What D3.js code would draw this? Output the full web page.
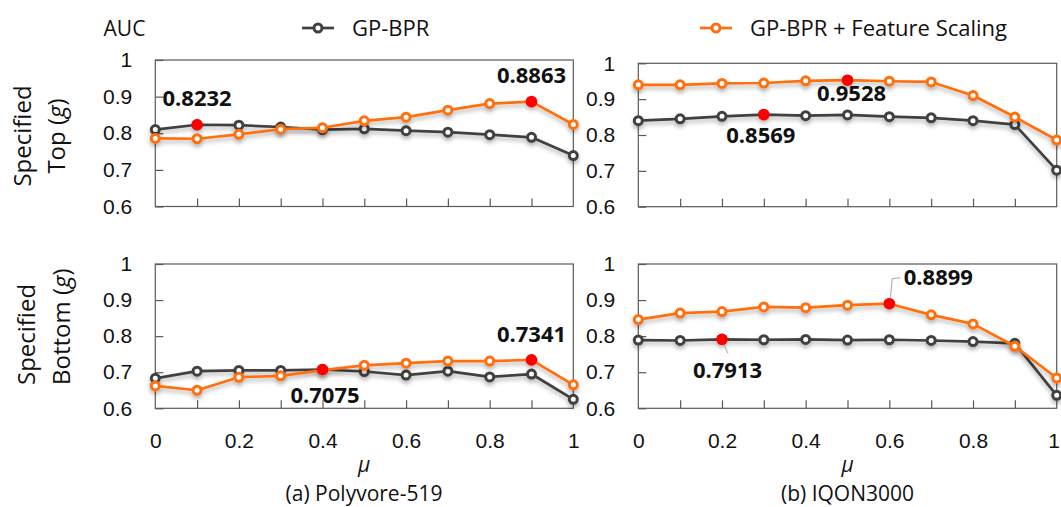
<!DOCTYPE html>
<html>
<head>
<meta charset="utf-8">
<script src="https://cdn.jsdelivr.net/npm/d3@7"></script>
<style>
  body { margin: 0; background: #fff; }
  svg { display: block; font-family: "Open Sans", sans-serif; }
</style>
</head>
<body>
<svg id="chart" width="1061" height="507"></svg>
<script>
// mu values along x
const mu = [0, 0.1, 0.2, 0.3, 0.4, 0.5, 0.6, 0.7, 0.8, 0.9, 1];
const xTickLabels = [0, 0.2, 0.4, 0.6, 0.8, 1];
const yTicks = [0.6, 0.7, 0.8, 0.9, 1];
const seriesNames = ["GP-BPR", "GP-BPR + Feature Scaling"];

// AUC, specified top, Polyvore-519
const polyTopBase = [0.810, 0.8232, 0.822, 0.817, 0.810, 0.812, 0.807, 0.803, 0.796, 0.789, 0.739];
const polyTopFs   = [0.786, 0.785, 0.797, 0.811, 0.815, 0.834, 0.844, 0.863, 0.881, 0.8863, 0.824];
// AUC, specified top, IQON3000
const iqonTopBase = [0.840, 0.845, 0.852, 0.8569, 0.854, 0.856, 0.851, 0.848, 0.840, 0.829, 0.702];
const iqonTopFs   = [0.940, 0.940, 0.944, 0.945, 0.951, 0.9528, 0.950, 0.948, 0.910, 0.850, 0.786];
// AUC, specified bottom, Polyvore-519
const polyBotBase = [0.683, 0.703, 0.705, 0.705, 0.7075, 0.702, 0.692, 0.703, 0.687, 0.695, 0.625];
const polyBotFs   = [0.662, 0.650, 0.686, 0.690, 0.706, 0.719, 0.725, 0.731, 0.731, 0.7341, 0.665];
// AUC, specified bottom, IQON3000
const iqonBotBase = [0.789, 0.788, 0.7913, 0.790, 0.791, 0.789, 0.790, 0.788, 0.785, 0.780, 0.636];
const iqonBotFs   = [0.846, 0.864, 0.868, 0.881, 0.879, 0.886, 0.8899, 0.859, 0.834, 0.772, 0.684];

// index of best value in each series (red dots)
const bestBase = [1, 3, 4, 2];
const bestFs = [9, 5, 9, 6];

const colBase = "#404040", colFs = "#ff6f0f", colBest = "#ff0000";

var svg = d3.select("#chart");

var defs = svg.append("defs");
var f = defs.append("filter").attr("id", "shadow")
    .attr("x", "-5%").attr("y", "-30%").attr("width", "110%").attr("height", "160%");
f.append("feDropShadow").attr("dx", 0).attr("dy", 3).attr("stdDeviation", 2)
    .attr("flood-color", "#000").attr("flood-opacity", 0.3);

// panel boxes and label offsets
var panels = [
    { x0: 155.3, x1: 573.3, y0: 60, y1: 206.5, base: polyTopBase, fs: polyTopFs, xLabels: false,
      offBase: [0, -26], offFs: [0, -26.5] },
    { x0: 638.3, x1: 1056.7, y0: 63.3, y1: 206.7, base: iqonTopBase, fs: iqonTopFs, xLabels: false,
      offBase: [-3, 20.5], offFs: [4, 13] },
    { x0: 155.3, x1: 573.3, y0: 264, y1: 408.3, base: polyBotBase, fs: polyBotFs, xLabels: true,
      offBase: [2.5, 25.5], offFs: [0, -26] },
    { x0: 638.3, x1: 1056.7, y0: 264, y1: 408.3, base: iqonBotBase, fs: iqonBotFs, xLabels: true,
      offBase: [5.5, 31], offFs: [49, -26.5], leaders: true }
];

var fmt4 = d3.format(".4f");

panels.forEach(function (p, i) {
    var x = d3.scaleLinear().domain([0, 1]).range([p.x0, p.x1]);
    var y = d3.scaleLinear().domain([0.6, 1]).range([p.y1, p.y0]);
    var g = svg.append("g");

    g.append("rect")
        .attr("x", p.x0).attr("y", p.y0)
        .attr("width", p.x1 - p.x0).attr("height", p.y1 - p.y0)
        .attr("fill", "none").attr("stroke", "#595959").attr("stroke-width", 1.2);

    var ya = g.append("g")
        .attr("transform", "translate(" + p.x0 + ",0)")
        .call(d3.axisLeft(y).tickValues(yTicks)
            .tickFormat(function (d) { return d === 1 ? "1" : d.toFixed(1); })
            .tickSize(-8).tickPadding(23));
    ya.select(".domain").remove();
    ya.selectAll("line").attr("stroke", "#595959").attr("stroke-width", 1.2);
    ya.selectAll("text").attr("font-size", "21px").attr("fill", "#111")
        .attr("font-family", "inherit");

    var xa = g.append("g")
        .attr("transform", "translate(0," + p.y1 + ")")
        .call(d3.axisBottom(x).tickValues(mu.slice(1, -1)).tickSize(-8).tickFormat(""));
    xa.select(".domain").remove();
    xa.selectAll("line").attr("stroke", "#595959").attr("stroke-width", 1.2);

    if (p.xLabels) {
        var xl = g.append("g")
            .attr("transform", "translate(0," + p.y1 + ")")
            .call(d3.axisBottom(x).tickValues(xTickLabels).tickSize(0).tickPadding(25)
                .tickFormat(function (d) { return d === 0 || d === 1 ? String(d) : d.toFixed(1); }));
        xl.select(".domain").remove();
        xl.selectAll("text").attr("font-size", "21px").attr("fill", "#111")
            .attr("font-family", "inherit");
        // keep the last label of the right panel inside the page
        if (p.x1 > 1050) {
            xl.selectAll("text").filter(function (d) { return d === 1; }).attr("dx", -3);
        }
    }

    var line = d3.line()
        .x(function (d, j) { return x(mu[j]); })
        .y(function (d) { return y(d); });

    [[p.base, colBase], [p.fs, colFs]].forEach(function (s) {
        var sg = g.append("g").attr("filter", "url(#shadow)");
        sg.append("path")
            .attr("d", line(s[0]))
            .attr("fill", "none").attr("stroke", s[1]).attr("stroke-width", 2.7)
            .attr("stroke-linejoin", "round");
        sg.selectAll("circle")
            .data(s[0])
            .enter().append("circle")
            .attr("cx", function (d, j) { return x(mu[j]); })
            .attr("cy", function (d) { return y(d); })
            .attr("r", 4)
            .attr("fill", "#fff").attr("stroke", s[1]).attr("stroke-width", 3);
    });

    // best points
    var best = [
        { v: p.base[bestBase[i]], m: mu[bestBase[i]], off: p.offBase },
        { v: p.fs[bestFs[i]], m: mu[bestFs[i]], off: p.offFs }
    ];

    if (p.leaders) {
        var b0 = best[0], b1 = best[1];
        g.append("path")
            .attr("d", "M" + (x(b0.m) + 1) + "," + (y(b0.v) + 3) + "L" + (x(b0.m) + 6) + "," + (y(b0.v) + 14))
            .attr("stroke", "#a6a6a6").attr("fill", "none");
        g.append("path")
            .attr("d", "M" + (x(b1.m) + 1) + "," + (y(b1.v) - 6) + "L" + (x(b1.m) + 3) + "," + (y(b1.v) - 25)
                + "L" + (x(b1.m) + 11) + "," + (y(b1.v) - 26))
            .attr("stroke", "#a6a6a6").attr("fill", "none");
    }

    g.selectAll(".best")
        .data(best)
        .enter().append("circle")
        .attr("class", "best")
        .attr("cx", function (d) { return x(d.m); })
        .attr("cy", function (d) { return y(d.v); })
        .attr("r", 5.8)
        .attr("fill", colBest);

    g.selectAll(".bestLabel")
        .data(best)
        .enter().append("text")
        .attr("class", "bestLabel")
        .attr("x", function (d) { return x(d.m) + d.off[0]; })
        .attr("y", function (d) { return y(d.v) + d.off[1]; })
        .attr("dy", "0.35em")
        .attr("text-anchor", "middle")
        .attr("font-size", "22px")
        .attr("font-weight", "bold")
        .attr("fill", "#111")
        .text(function (d) { return fmt4(d.v); });
});

// y axis title
svg.append("text")
    .attr("x", 124.5).attr("y", 29).attr("dy", "0.35em")
    .attr("text-anchor", "middle").attr("font-size", "21px").attr("fill", "#111")
    .text("AUC");

// row labels
function rowLabel(cx, cy, anchor, parts) {
    var t = svg.append("text")
        .attr("transform", "translate(" + cx + "," + cy + ") rotate(-90)")
        .attr("dy", "0.35em")
        .attr("text-anchor", anchor)
        .attr("font-size", "24px").attr("fill", "#111");
    parts.forEach(function (pt) {
        t.append("tspan").attr("font-style", pt[1] ? "italic" : "normal").text(pt[0]);
    });
}
rowLabel(23, 136, "middle", [["Specified", false]]);
rowLabel(57, 136, "middle", [["Top (", false], ["g", true], [")", false]]);
rowLabel(27, 385, "start", [["Specified", false]]);
rowLabel(62, 385, "start", [["Bottom (", false], ["g", true], [")", false]]);

// legend
var legend = [
    { name: seriesNames[0], col: colBase, x: 302 },
    { name: seriesNames[1], col: colFs, x: 700 }
];
legend.forEach(function (l) {
    var lg = svg.append("g").attr("transform", "translate(" + l.x + ",28)");
    lg.append("line").attr("x1", 0).attr("x2", 32).attr("stroke", l.col).attr("stroke-width", 2.7);
    lg.append("circle").attr("cx", 16).attr("r", 4)
        .attr("fill", "#fff").attr("stroke", l.col).attr("stroke-width", 3);
    lg.append("text").attr("x", 50).attr("dy", "0.35em")
        .attr("font-size", "22px").attr("fill", "#111").text(l.name);
});

// mu labels and captions
[[364, "(a) Polyvore-519"], [847.5, "(b) IQON3000"]].forEach(function (c) {
    svg.append("text").attr("x", c[0]).attr("y", 465).attr("dy", "0.35em")
        .attr("text-anchor", "middle").attr("font-size", "21px").attr("font-style", "italic")
        .attr("fill", "#111").text("\u03bc");
    svg.append("text").attr("x", c[0]).attr("y", 494).attr("dy", "0.35em")
        .attr("text-anchor", "middle").attr("font-size", "21px")
        .attr("fill", "#111").text(c[1]);
});
</script>
</body>
</html>
